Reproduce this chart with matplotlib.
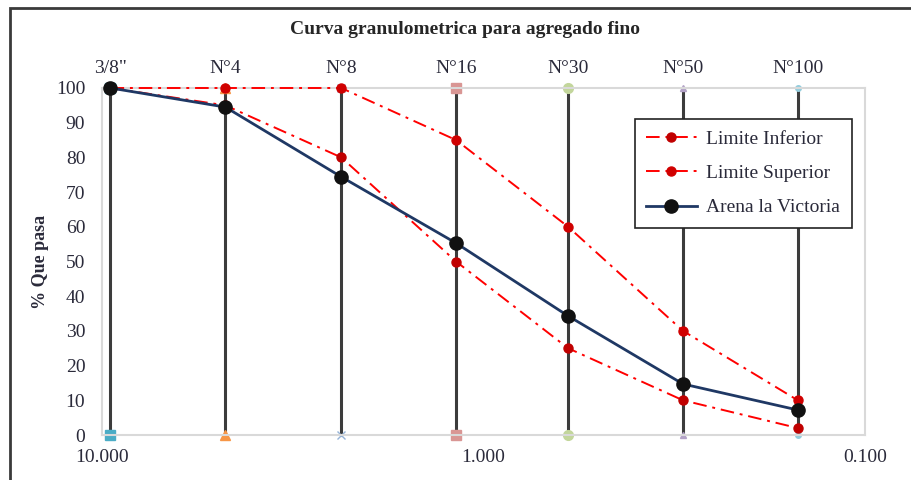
import matplotlib
matplotlib.use("Agg")
import matplotlib.pyplot as plt
from matplotlib.patches import Rectangle

# sieve openings (mm) and names
sieve_mm = [9.5, 4.75, 2.36, 1.18, 0.6, 0.3, 0.15]
sieve_names = ['3/8"', "N°4", "N°8", "N°16", "N°30", "N°50", "N°100"]

# % passing
lim_inf = [100, 95, 80, 50, 25, 10, 2]
lim_sup = [100, 100, 100, 85, 60, 30, 10]
arena = [100, 94.5, 74.4, 55.3, 34.3, 14.7, 7.2]

# excel-style drop line series per sieve (marker, color)
sieve_markers = ["s", "^", "x", "s", "o", "^", "o"]
sieve_colors = ["#4BACC6", "#F79646", "#95B3D7", "#D99694", "#C3D69B", "#B3A2C7", "#93CDDD"]
sieve_msize = [7, 7, 6, 7, 7, 5, 4]

bottom_ticks = [10, 1, 0.1]
bottom_labels = ["10.000", "1.000", "0.100"]
y_ticks = list(range(0, 101, 10))

plt.rcParams["font.family"] = ["Liberation Serif", "DejaVu Serif"]
txt_color = "#2a2a3a"

fig = plt.figure(figsize=(9.12, 4.8), dpi=100)
ax = fig.add_axes([102 / 912, 1 - 435 / 480, 763 / 912, 347 / 480])

# outer frame
fig.patches.append(Rectangle((10 / 912, -0.1), 1.2, 1 - 8 / 480 + 0.1, transform=fig.transFigure,
                             fill=False, edgecolor="#3a3a3a", lw=2, zorder=0))

for x, m, c, ms in zip(sieve_mm, sieve_markers, sieve_colors, sieve_msize):
    ax.plot([x, x], [0, 100], color="#3c3c3c", lw=2.2, zorder=2,
            marker=m, markersize=ms, markerfacecolor=c, markeredgecolor=c, clip_on=False)

ax.plot(sieve_mm, lim_inf, color="#FF0000", lw=1.4, dashes=[7, 3, 1.5, 3],
        marker="o", markersize=6.5, markerfacecolor="#C00000", markeredgecolor="#C00000",
        label="Limite Inferior", zorder=3, clip_on=False)
ax.plot(sieve_mm, lim_sup, color="#FF0000", lw=1.4, dashes=[7, 3, 1.5, 3],
        marker="o", markersize=6.5, markerfacecolor="#D00000", markeredgecolor="#D00000",
        label="Limite Superior", zorder=3, clip_on=False)
ax.plot(sieve_mm, arena, color="#1F3864", lw=2, marker="o", markersize=9.5,
        markerfacecolor="#111111", markeredgecolor="#111111",
        label="Arena la Victoria", zorder=4, clip_on=False)

ax.set_xscale("log")
ax.set_xlim(10, 0.1)
ax.set_ylim(0, 100)
ax.set_xticks(bottom_ticks)
ax.set_xticklabels(bottom_labels)
ax.minorticks_off()
ax.set_yticks(y_ticks)
ax.tick_params(axis="both", length=0, labelsize=14, colors=txt_color)
ax.tick_params(axis="x", pad=10)
ax.tick_params(axis="y", pad=12)
for s in ax.spines.values():
    s.set_color("#D9D9D9")
    s.set_linewidth(1.5)

top = ax.secondary_xaxis("top")
top.set_xticks(sieve_mm)
top.set_xticklabels(sieve_names)
top.minorticks_off()
top.tick_params(length=0, labelsize=14, colors=txt_color, pad=8)
top.spines["top"].set_visible(False)

ax.set_ylabel("% Que pasa", fontsize=13, fontweight="bold", color=txt_color, labelpad=5)
fig.text(465 / 912, 1 - 30 / 480, "Curva granulometrica para agregado fino", ha="center", va="center",
         fontsize=14, fontweight="bold", color="#262626")

leg = ax.legend(loc="upper right", bbox_to_anchor=(0.983, 0.911), borderaxespad=0,
                fontsize=14, frameon=True, fancybox=False, labelspacing=0.85,
                handlelength=2.6, borderpad=0.6, handletextpad=0.5)
leg.get_frame().set_edgecolor("#222222")
leg.get_frame().set_linewidth(1.2)
leg.get_frame().set_alpha(1)
leg.set_zorder(10)
for t in leg.get_texts():
    t.set_color(txt_color)

fig.savefig("out.png", dpi=100)
